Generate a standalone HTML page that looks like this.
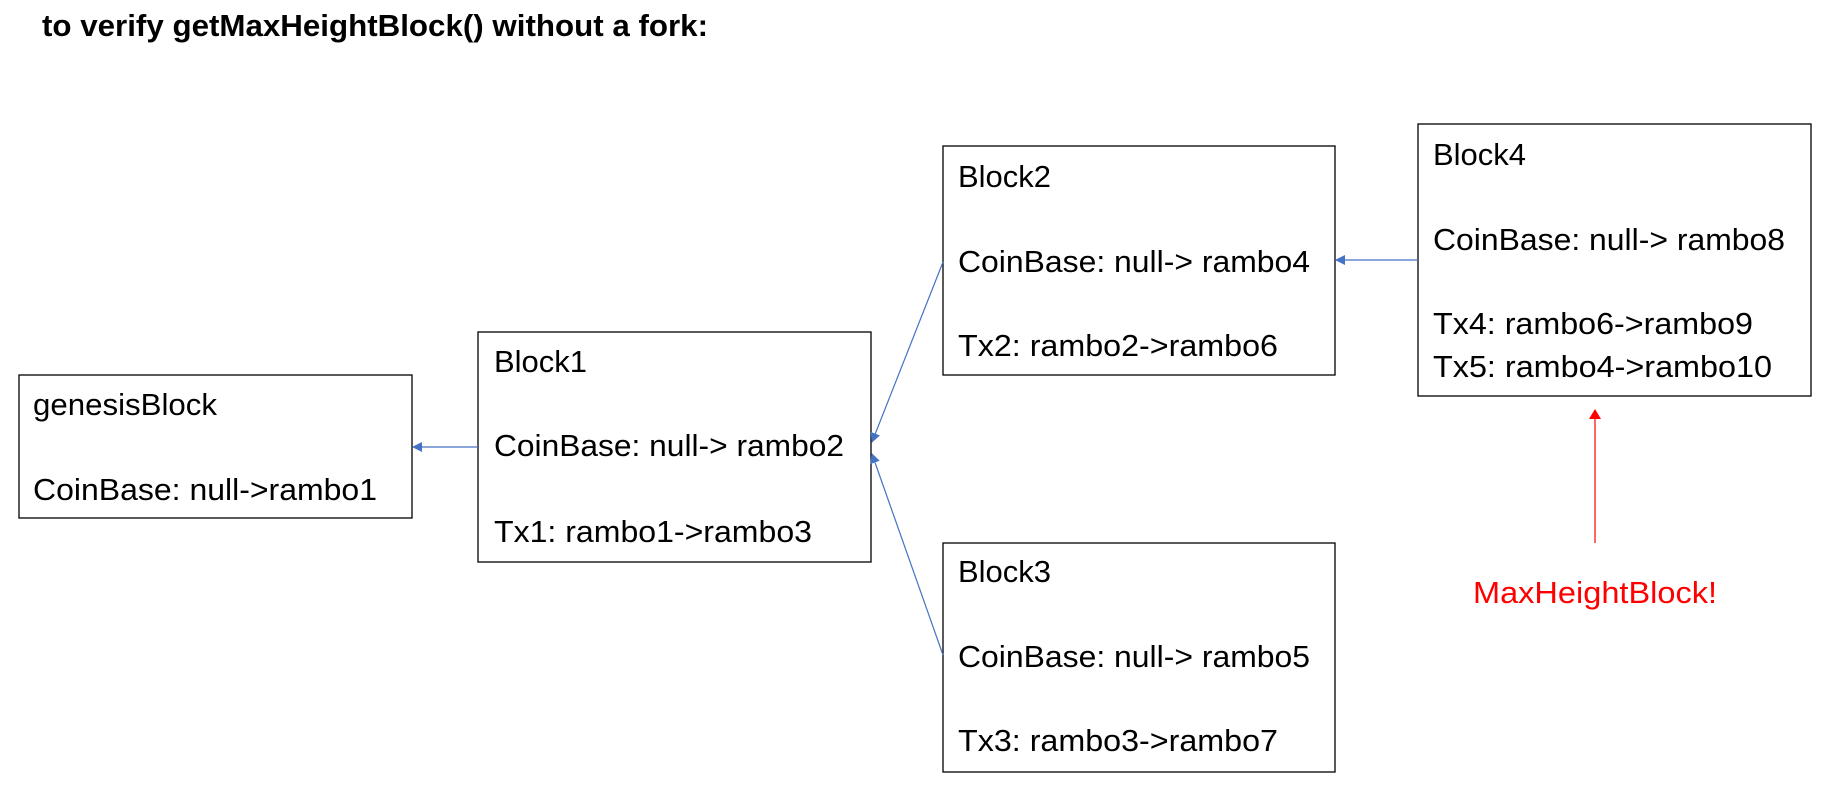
<!DOCTYPE html>
<html><head><meta charset="utf-8"><style>
html,body{margin:0;padding:0;background:#fff;}
svg{display:block;}
text{font-family:"Liberation Sans",sans-serif;font-size:31px;fill:#000;}
</style></head><body>
<svg width="1834" height="804" viewBox="0 0 1834 804" xmlns="http://www.w3.org/2000/svg">
<defs>
<marker id="ab" markerWidth="10" markerHeight="10" refX="9" refY="5" orient="auto" markerUnits="userSpaceOnUse"><path d="M0,0 L10,5 L0,10 z" fill="#4472c4"/></marker>
<marker id="ar" markerWidth="10" markerHeight="12" refX="9" refY="6" orient="auto" markerUnits="userSpaceOnUse"><path d="M0,0 L10,6 L0,12 z" fill="#ff0000"/></marker>
</defs>
<text x="42" y="36" font-weight="bold" textLength="666" lengthAdjust="spacingAndGlyphs">to verify getMaxHeightBlock() without a fork:</text>

<g fill="none" stroke="#000" stroke-width="1.3">
<rect x="19" y="375" width="393" height="143"/>
<rect x="478" y="332" width="393" height="230"/>
<rect x="943" y="146" width="392" height="229"/>
<rect x="943" y="543" width="392" height="229"/>
<rect x="1418" y="124" width="393" height="272"/>
</g>

<g stroke="#4472c4" stroke-width="1.2" fill="none">
<line x1="478" y1="447" x2="413" y2="447" marker-end="url(#ab)"/>
<line x1="943" y1="262" x2="872" y2="442" marker-end="url(#ab)"/>
<line x1="943" y1="655" x2="872" y2="454" marker-end="url(#ab)"/>
<line x1="1418" y1="260" x2="1336" y2="260" marker-end="url(#ab)"/>
</g>
<line x1="1595" y1="543" x2="1595" y2="410" stroke="#ff0000" stroke-width="1.2" marker-end="url(#ar)"/>

<text x="33" y="415" textLength="184" lengthAdjust="spacingAndGlyphs">genesisBlock</text>
<text x="33" y="500" textLength="344" lengthAdjust="spacingAndGlyphs">CoinBase: null-&gt;rambo1</text>

<text x="494" y="372" textLength="93" lengthAdjust="spacingAndGlyphs">Block1</text>
<text x="494" y="456" textLength="350" lengthAdjust="spacingAndGlyphs">CoinBase: null-&gt; rambo2</text>
<text x="494" y="542" textLength="318" lengthAdjust="spacingAndGlyphs">Tx1: rambo1-&gt;rambo3</text>

<text x="958" y="187" textLength="93" lengthAdjust="spacingAndGlyphs">Block2</text>
<text x="958" y="272" textLength="352" lengthAdjust="spacingAndGlyphs">CoinBase: null-&gt; rambo4</text>
<text x="958" y="356" textLength="320" lengthAdjust="spacingAndGlyphs">Tx2: rambo2-&gt;rambo6</text>

<text x="958" y="582" textLength="93" lengthAdjust="spacingAndGlyphs">Block3</text>
<text x="958" y="667" textLength="352" lengthAdjust="spacingAndGlyphs">CoinBase: null-&gt; rambo5</text>
<text x="958" y="751" textLength="320" lengthAdjust="spacingAndGlyphs">Tx3: rambo3-&gt;rambo7</text>

<text x="1433" y="165" textLength="93" lengthAdjust="spacingAndGlyphs">Block4</text>
<text x="1433" y="250" textLength="352" lengthAdjust="spacingAndGlyphs">CoinBase: null-&gt; rambo8</text>
<text x="1433" y="334" textLength="320" lengthAdjust="spacingAndGlyphs">Tx4: rambo6-&gt;rambo9</text>
<text x="1433" y="377" textLength="339" lengthAdjust="spacingAndGlyphs">Tx5: rambo4-&gt;rambo10</text>

<text x="1473" y="603" style="fill:#ff0000" textLength="244" lengthAdjust="spacingAndGlyphs">MaxHeightBlock!</text>
</svg>
</body></html>
